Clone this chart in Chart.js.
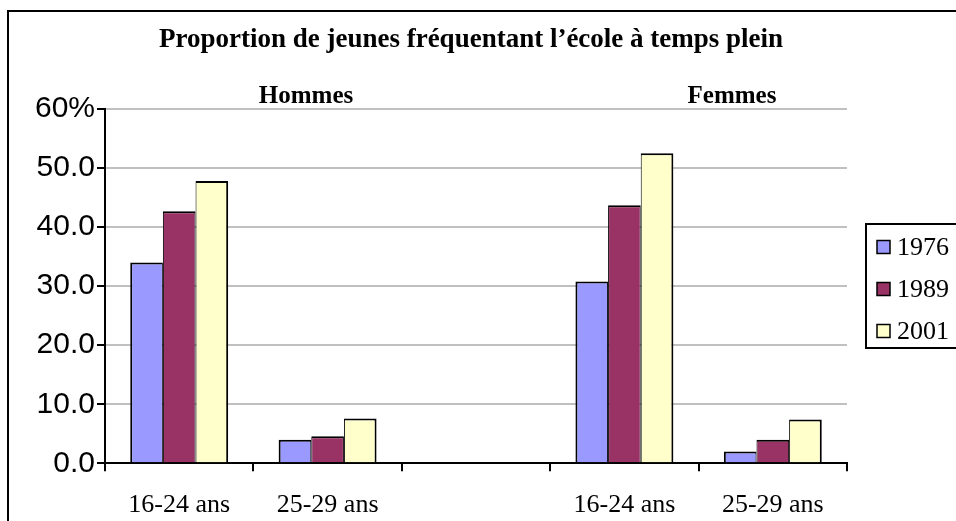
<!DOCTYPE html>
<html>
<head>
<meta charset="utf-8">
<script src="https://cdn.jsdelivr.net/npm/chart.js@4/dist/chart.umd.min.js"></script>
<style>
  html, body { margin: 0; padding: 0; background: #fff; overflow: hidden; }
  #wrap { width: 956px; height: 521px; }
</style>
</head>
<body>
<div id="wrap"><canvas id="chart" width="956" height="521"></canvas></div>
<script>
const categories = ["16-24 ans", "25-29 ans", "", "16-24 ans", "25-29 ans"];
const years = ["1976", "1989", "2001"];
const values1976 = [34.0, 4.0, null, 30.8, 2.0];
const values1989 = [42.7, 4.6, null, 43.7, 4.0];
const values2001 = [47.8, 7.6, null, 52.5, 7.4];
const yTicks = [0, 10, 20, 30, 40, 50, 60];
const groupLabels = ["Hommes", "Femmes"];
const chartTitle = "Proportion de jeunes fréquentant l’école à temps plein";

const COLORS = ["#9999ff", "#993366", "#ffffcc"];
const SERIF = "'Liberation Serif', 'Times New Roman', serif";
const SANS = "'Liberation Sans', Arial, sans-serif";

// adjacent bars share one 2px edge, like the original
const BORDERS = [
  { left: 2, right: 1, top: 2, bottom: 0 },
  { left: 1, right: 1, top: 2, bottom: 0 },
  { left: 1, right: 2, top: 2, bottom: 0 },
];

// frame, title, group labels and the boxed legend on the right
const decorPlugin = {
  id: "decor",
  beforeDraw(chart) {
    const ctx = chart.ctx;
    ctx.save();
    ctx.fillStyle = "#fff";
    ctx.fillRect(0, 0, chart.width, chart.height);
    ctx.restore();
  },
  afterDraw(chart) {
    const ctx = chart.ctx;
    ctx.save();
    ctx.strokeStyle = "#000";
    ctx.lineWidth = 2;
    ctx.strokeRect(8, 11, 1000, 600);

    ctx.fillStyle = "#000";
    ctx.textAlign = "center";
    ctx.textBaseline = "alphabetic";
    ctx.font = "bold 27px " + SERIF;
    ctx.fillText(chartTitle, 471, 47);
    ctx.font = "bold 25px " + SERIF;
    ctx.fillText(groupLabels[0], 306, 103);
    ctx.fillText(groupLabels[1], 732, 103);

    // legend
    ctx.lineWidth = 2;
    ctx.strokeRect(866, 224, 120, 124);
    ctx.font = "26px " + SERIF;
    ctx.textAlign = "left";
    ctx.textBaseline = "middle";
    chart.data.datasets.forEach((ds, i) => {
      const cy = 247 + i * 42;
      ctx.fillStyle = ds.backgroundColor;
      ctx.fillRect(877, cy - 6.5, 13, 13);
      ctx.strokeStyle = "#000";
      ctx.lineWidth = 1.5;
      ctx.strokeRect(877, cy - 6.5, 13, 13);
      ctx.fillStyle = "#000";
      ctx.fillText(ds.label, 897, cy + 1);
    });
    ctx.restore();
  },
};

new Chart(document.getElementById("chart"), {
  type: "bar",
  data: {
    labels: categories,
    datasets: [
      { label: years[0], data: values1976, backgroundColor: COLORS[0] },
      { label: years[1], data: values1989, backgroundColor: COLORS[1] },
      { label: years[2], data: values2001, backgroundColor: COLORS[2] },
    ].map((d, i) => ({ ...d, borderColor: "#000", borderWidth: BORDERS[i], borderSkipped: "bottom", inflateAmount: 0 })),
  },
  options: {
    responsive: false,
    animation: false,
    events: [],
    layout: { padding: { left: 0, top: 109, right: 109, bottom: 0 } },
    categoryPercentage: 0.66,
    barPercentage: 1.0,
    plugins: {
      legend: { display: false },
      title: { display: false },
      tooltip: { enabled: false },
    },
    scales: {
      x: {
        afterFit: (s) => { s.height = 57.7; },
        grid: {
          offset: true,
          drawOnChartArea: false,
          drawTicks: true,
          tickLength: 8,
          tickColor: "#000",
          lineWidth: 2,
        },
        border: { display: true, color: "#000", width: 2 },
        ticks: {
          color: "#000",
          font: { family: SERIF, size: 26 },
          padding: 18,
          maxRotation: 0,
          autoSkip: false,
        },
      },
      y: {
        min: yTicks[0],
        max: yTicks[yTicks.length - 1],
        afterFit: (s) => { s.width = 105; },
        afterBuildTicks: (s) => { s.ticks = yTicks.map((v) => ({ value: v })); },
        grid: {
          color: "#c0c0c0",
          lineWidth: 2,
          tickLength: 8,
          tickColor: "#000",
        },
        border: { display: true, color: "#000", width: 2 },
        ticks: {
          color: "#000",
          font: { family: SANS, size: 30 },
          padding: 2,
          callback: (v) => (v === 60 ? "60%" : v.toFixed(1)),
        },
      },
    },
  },
  plugins: [decorPlugin],
});
</script>
</body>
</html>
